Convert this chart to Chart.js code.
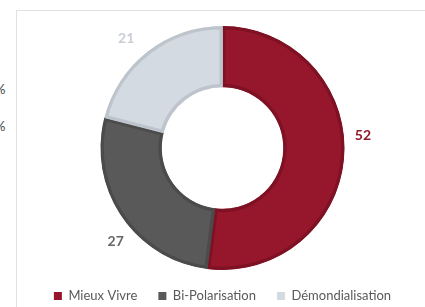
<!DOCTYPE html>
<html><head><meta charset="utf-8">
<script src="https://cdn.jsdelivr.net/npm/chart.js@4/dist/chart.umd.min.js"></script>
<style>
html,body{margin:0;padding:0;background:#fff;width:425px;height:307px;overflow:hidden;}
#frame{position:absolute;left:16px;top:10px;right:-5px;bottom:-5px;border-top:1px solid #e2e2e2;border-left:1px solid #e2e2e2;}
.pct{position:absolute;left:-5px;font:13px Lato, sans-serif;color:#404040;}
#wrap{position:absolute;left:0;top:0;width:425px;height:307px;}
</style></head><body>
<div id="frame"></div>
<span class="pct" style="top:81px">%</span>
<span class="pct" style="top:118px">%</span>
<div id="wrap"><canvas id="c"></canvas></div>
<script>
// Data
const categories = ['Mieux Vivre', 'Bi-Polarisation', 'Démondialisation'];
const values = [52, 27, 21];

// Styles
const fillColors = ['#96162B', '#595959', '#D4DAE1'];
const edgeColors = ['#7E1123', '#4B4B4B', '#BDC4CC'];
const labelColors = ['#8E1829', '#666666', '#C9CED5'];

const outsideLabels = {
  id: 'outsideLabels',
  afterDatasetsDraw(chart, args, opts) {
    const ctx = chart.ctx;
    const meta = chart.getDatasetMeta(0);
    meta.data.forEach((arc, i) => {
      const p = arc.getProps(['x', 'y', 'startAngle', 'endAngle', 'outerRadius'], true);
      const mid = (p.startAngle + p.endAngle) / 2 + opts.angleShift[i] * Math.PI / 180;
      const r = p.outerRadius + opts.offset[i];
      ctx.save();
      ctx.font = 'bold 14px Lato';
      ctx.fillStyle = opts.colors[i];
      ctx.textAlign = 'center';
      ctx.textBaseline = 'middle';
      ctx.fillText(String(chart.data.datasets[0].data[i]), p.x + Math.cos(mid) * r, p.y + Math.sin(mid) * r);
      ctx.restore();
    });
  }
};

new Chart(document.getElementById('c'), {
  type: 'doughnut',
  data: {
    labels: categories,
    datasets: [{
      data: values,
      backgroundColor: fillColors,
      borderColor: edgeColors,
      borderWidth: 3,
      borderAlign: 'inner',
      radius: 122,
      cutout: 60,
      clip: false
    }]
  },
  options: {
    responsive: true,
    maintainAspectRatio: false,
    animation: false,
    events: [],
    layout: { padding: { top: 27.5, bottom: -5.5, left: 20, right: 0 } },
    plugins: {
      tooltip: { enabled: false },
      outsideLabels: {
        angleShift: [-8.5, -7, -3.5],
        offset: [19, 20, 24],
        colors: labelColors
      },
      legend: {
        position: 'bottom',
        labels: {
          boxWidth: 8,
          boxHeight: 8,
          padding: 21,
          color: '#595959',
          font: { family: 'Lato', size: 13 },
          generateLabels(chart) {
            const items = Chart.overrides.doughnut.plugins.legend.labels.generateLabels(chart);
            items.forEach(it => { it.lineWidth = 0; it.strokeStyle = it.fillStyle; });
            return items;
          }
        }
      }
    }
  },
  plugins: [outsideLabels]
});
</script>
</body></html>
